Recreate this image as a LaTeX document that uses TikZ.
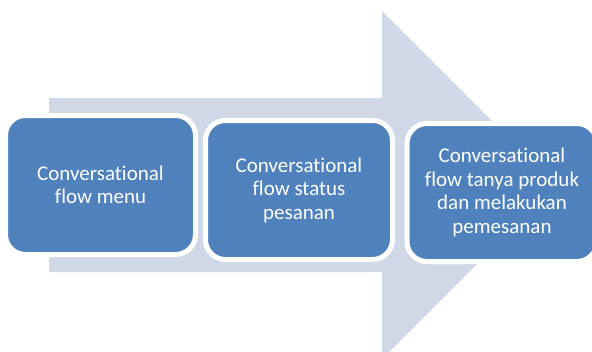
\documentclass[tikz,border=0pt]{standalone}
\usepackage{fontspec}
\setmainfont{Carlito}[Ligatures=NoCommon]
\definecolor{arrowfill}{RGB}{208,216,232}
\definecolor{boxfill}{RGB}{79,129,189}
\tikzset{
  stepbox/.style={draw=white, line width=5pt, fill=boxfill, rounded corners=20pt,
    text=white, align=center, inner sep=0pt, outer sep=0pt,
    font=\fontsize{21pt}{23.5pt}\selectfont}
}
\begin{document}
\begin{tikzpicture}[x=1pt,y=-1pt]
\useasboundingbox (0,0) rectangle (592,351);
\clip (0,0) rectangle (592,351);
\fill[arrowfill] (49,98) -- (382,98) -- (382,11) -- (556,185) -- (382,359) -- (382,272) -- (49,272) -- cycle;
\node[stepbox, minimum width=190pt, minimum height=139pt] (b1) at (100.5,185) {Conversational\\flow menu};
\node[stepbox, minimum width=187pt, minimum height=139pt] (b2) at (299,190) {Conversational\\flow status\\pesanan};
\node[stepbox, minimum width=190pt, minimum height=138pt] (b3) at (502,192.5) {Conversational\\flow tanya produk\\dan melakukan\\pemesanan};
\end{tikzpicture}
\end{document}
